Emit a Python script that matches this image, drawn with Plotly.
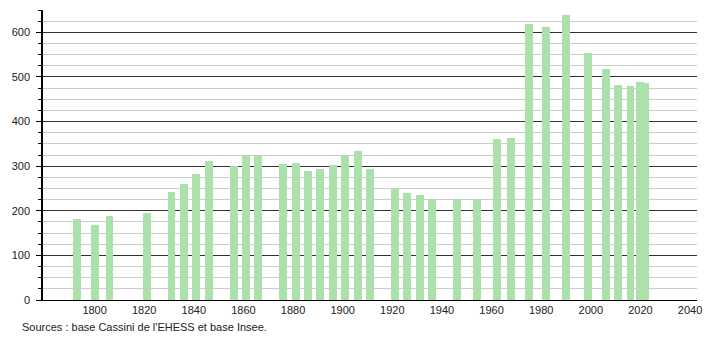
import plotly.graph_objects as go

years = [1793, 1800, 1806, 1821, 1831, 1836, 1841, 1846, 1856, 1861, 1866,
         1876, 1881, 1886, 1891, 1896, 1901, 1906, 1911, 1921, 1926, 1931,
         1936, 1946, 1954, 1962, 1968, 1975, 1982, 1990, 1999, 2006, 2011,
         2016, 2020, 2022]
population = [182, 169, 189, 196, 241, 259, 282, 311, 300, 325, 322,
              304, 306, 290, 294, 302, 322, 335, 294, 249, 240, 236,
              225, 227, 227, 361, 362, 618, 612, 638, 553, 517, 481,
              479, 488, 487]

x_ticks = [1800, 1820, 1840, 1860, 1880, 1900, 1920, 1940, 1960, 1980, 2000, 2020, 2040]
y_ticks = [0, 100, 200, 300, 400, 500, 600]
source_text = "Sources : base Cassini de l'EHESS et base Insee."

fig = go.Figure()
fig.add_trace(go.Bar(
    x=years, y=population, width=3.2,
    marker=dict(color="rgb(172,225,172)", line=dict(width=0)),
    hoverinfo="x+y",
))

fig.update_layout(
    width=710, height=340,
    margin=dict(l=43, r=8, t=10, b=40),
    paper_bgcolor="white", plot_bgcolor="white",
    font=dict(family="Liberation Sans, Arial, sans-serif", size=11, color="#222"),
    showlegend=False,
    xaxis=dict(
        range=[1779.2, 2042.8],
        tickvals=x_ticks, ticks="", showgrid=False, zeroline=False,
        showline=True, linecolor="black", linewidth=1,
        tickfont=dict(size=11, color="#222"),
    ),
    yaxis=dict(
        range=[0, 650],
        tickvals=y_ticks, ticks="outside", ticklen=5, tickcolor="black",
        showline=True, linecolor="black", linewidth=1.5,
        showgrid=True, gridcolor="#333", gridwidth=1,
        zeroline=False,
        ticklabelstandoff=4,
        minor=dict(dtick=25, showgrid=True, gridcolor="#cccccc", gridwidth=1,
                   ticks="outside", ticklen=3, tickcolor="black"),
        tickfont=dict(size=11, color="#222"),
    ),
    bargap=0,
)

fig.add_annotation(
    text=source_text, xref="paper", yref="paper",
    x=-23/659, y=-27/290, xanchor="left", yanchor="middle",
    showarrow=False, font=dict(size=11, color="#222"),
)

fig.write_html("out.html")
